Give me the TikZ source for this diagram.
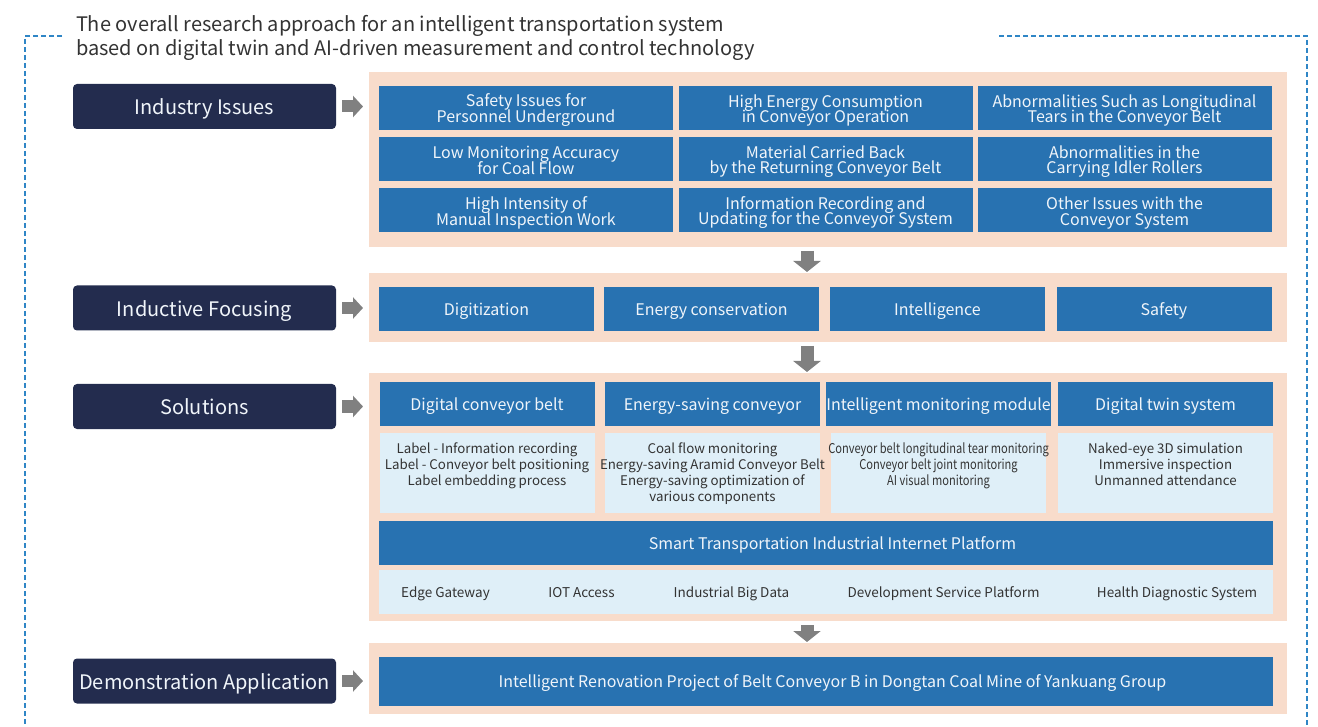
\documentclass[tikz,border=0pt]{standalone}
\usepackage{fontspec}
\setmainfont{Noto Sans CJK SC}
\newfontfamily\condfont[FakeStretch=0.82]{Noto Sans CJK SC}
\usetikzlibrary{arrows.meta}
\definecolor{navy}{RGB}{35,44,78}
\definecolor{cblue}{RGB}{40,114,177}
\definecolor{peach}{RGB}{248,220,203}
\definecolor{clight}{RGB}{223,239,248}
\definecolor{agray}{RGB}{128,128,128}
\definecolor{dashblue}{RGB}{47,134,198}
\definecolor{dtext}{RGB}{51,51,51}
\definecolor{twhite}{RGB}{240,245,250}
\newcommand\mytopstrut{\rule{0pt}{1.06em}}
\newcommand\mytwostrut{\rule{0pt}{33pt}}
\newcommand\mybotstrut{\rule[-0.22em]{0pt}{0pt}}
\newcommand\tightlines{\lineskiplimit=-20pt\relax}
\begin{document}
\begin{tikzpicture}[x=1pt,y=-1pt,
  every node/.style={inner sep=0pt,outer sep=0pt},
  struts/.style={execute at begin node=\mytopstrut, execute at end node=\mybotstrut},
  lblbox/.style={fill=navy,rounded corners=4pt,text=twhite,minimum width=263pt,minimum height=45pt,font=\fontsize{20}{24}\selectfont,struts},
  panel/.style={fill=peach,minimum width=918pt},
  bluebox/.style={fill=cblue,text=twhite,align=center,font=\fontsize{16}{15.5}\selectfont\tightlines,struts},
  issue/.style={bluebox,minimum width=294pt,minimum height=44pt,execute at begin node=\mytwostrut},
  quad/.style={bluebox,minimum width=215pt,minimum height=44pt},
  lightbox/.style={fill=clight},
  dtxt/.style={text=dtext,align=center,font=\fontsize{13.3}{16}\selectfont\tightlines,anchor=north},
  ptxt/.style={text=dtext,font=\fontsize{13.5}{16}\selectfont,anchor=base},
  harrow/.style={draw=agray,line width=12pt,-{Triangle[length=10pt,width=21pt]},shorten <=6pt,shorten >=6pt},
  varrow/.style={draw=agray,line width=13pt,-{Triangle[length=11pt,width=27pt]},shorten <=4pt,shorten >=1pt},
  frame/.style={draw=dashblue,line width=1.3pt,dash pattern=on 5pt off 3pt}
]
\useasboundingbox (0,0) rectangle (1318,727);

% dashed frame
\coordinate (f1) at (62,36);
\coordinate (f2) at (25,36);
\coordinate (f3) at (25,727);
\coordinate (f4) at (999,36);
\coordinate (f5) at (1307,36);
\coordinate (f6) at (1307,727);
\draw[frame] (f1) -- (f2) -- (f3);
\draw[frame] (f4) -- (f5) -- (f6);

% title
\node[anchor=north west,align=left,text=dtext,font=\fontsize{20}{24}\selectfont] (title) at (76,15)
  {The overall research approach for an intelligent transportation system\\based on digital twin and AI-driven measurement and control technology};

% left labels
\node[lblbox] (l1) at (204.5,106.5) {Industry Issues};
\node[lblbox] (l2) at (204.5,308) {Inductive Focusing};
\node[lblbox] (l3) at (204.5,406.5) {Solutions};
\node[lblbox] (l4) at (204.5,681) {Demonstration Application};

% panels
\node[panel,minimum height=175pt] (p1) at (828,159.5) {};
\node[panel,minimum height=69pt] (p2) at (828,307.5) {};
\node[panel,minimum height=248pt] (p3) at (828,497) {};
\node[panel,minimum height=71pt] (p4) at (828,678.5) {};

% industry issues
\node[issue] (i11) at (526,108) {Safety Issues for\\Personnel Underground};
\node[issue] (i12) at (825.5,108) {High Energy Consumption\\in Conveyor Operation};
\node[issue] (i13) at (1124.5,108) {Abnormalities Such as Longitudinal\\Tears in the Conveyor Belt};
\node[issue] (i21) at (526,159.5) {Low Monitoring Accuracy\\for Coal Flow};
\node[issue] (i22) at (825.5,159.5) {Material Carried Back\\by the Returning Conveyor Belt};
\node[issue] (i23) at (1124.5,159.5) {Abnormalities in the\\Carrying Idler Rollers};
\node[issue] (i31) at (526,210.5) {High Intensity of\\Manual Inspection Work};
\node[issue] (i32) at (825.5,210.5) {Information Recording and\\Updating for the Conveyor System};
\node[issue] (i33) at (1124.5,210.5) {Other Issues with the\\Conveyor System};

% inductive focusing
\node[quad] (g1) at (486.5,309) {Digitization};
\node[quad] (g2) at (711.5,309) {Energy conservation};
\node[quad] (g3) at (937.5,309) {Intelligence};
\node[quad] (g4) at (1164,309) {Safety};

% solutions
\node[quad] (s1) at (487,404) {Digital conveyor belt};
\node[quad] (s2) at (712.5,404) {Energy-saving conveyor};
\node[quad] (s3) at (938.5,404) {Intelligent monitoring module};
\node[quad] (s4) at (1165.5,404) {Digital twin system};
\node[lightbox,minimum width=215pt,minimum height=80pt] (d1) at (487,473) {};
\node[lightbox,minimum width=215pt,minimum height=80pt] (d2) at (712.5,473) {};
\node[lightbox,minimum width=215pt,minimum height=80pt] (d3) at (938.5,473) {};
\node[lightbox,minimum width=215pt,minimum height=80pt] (d4) at (1165.5,473) {};
\node[dtxt] (t1) at ([yshift=-10pt]d1.north) {Label - Information recording\\Label - Conveyor belt positioning\\Label embedding process};
\node[dtxt] (t2) at ([yshift=-10pt]d2.north) {Coal flow monitoring\\Energy-saving Aramid Conveyor Belt\\Energy-saving optimization of\\various components};
\node[dtxt,font=\condfont\fontsize{13.5}{16}\selectfont\tightlines] (t3) at ([yshift=-10pt]d3.north) {Conveyor belt longitudinal tear monitoring\\Conveyor belt joint monitoring\\AI visual monitoring};
\node[dtxt] (t4) at ([yshift=-10pt]d4.north) {Naked-eye 3D simulation\\Immersive inspection\\Unmanned attendance};

% platform
\node[bluebox,minimum width=894pt,minimum height=44pt] (pf) at (825.5,543) {\hspace*{14pt}Smart Transportation Industrial Internet Platform};
\node[lightbox,minimum width=894pt,minimum height=44pt] (pd) at (825.5,592) {};
\node[ptxt] (e1) at (445.5,597.5) {Edge Gateway};
\node[ptxt] (e2) at (581.5,597.5) {IOT Access};
\node[ptxt] (e3) at (731.5,597.5) {Industrial Big Data};
\node[ptxt] (e4) at (943.5,597.5) {Development Service Platform};
\node[ptxt] (e5) at (1177,597.5) {Health Diagnostic System};

% demonstration
\node[bluebox,minimum width=894pt,minimum height=49pt] (demo) at (825.5,681.5) {\hspace*{14pt}Intelligent Renovation Project of Belt Conveyor B in Dongtan Coal Mine of Yankuang Group};

% arrows
\draw[harrow] (l1.east) -- (l1.east -| p1.west);
\draw[harrow] (l2.east) -- (l2.east -| p2.west);
\draw[harrow] (l3.east) -- (l3.east -| p3.west);
\draw[harrow] (l4.east) -- (l4.east -| p4.west);
\coordinate (ax) at (807,0);
\draw[varrow] (p1.south -| ax) -- (p2.north -| ax);
\draw[varrow] (p2.south -| ax) -- (p3.north -| ax);
\draw[varrow] (p3.south -| ax) -- (p4.north -| ax);
\end{tikzpicture}
\end{document}
